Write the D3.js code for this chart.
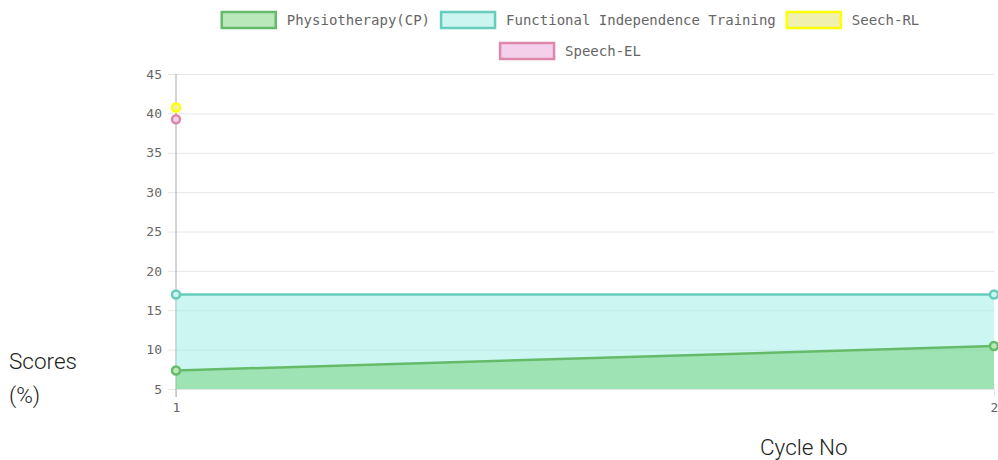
<!DOCTYPE html>
<html>
  <head>
    <title>Scores by Cycle</title>
    <script src="https://d3js.org/d3.v7.min.js"></script>
    <style>
      body { margin: 0; background: #fff; }
      .tick text { font-family: "DejaVu Sans Mono", monospace; font-size: 13px; fill: #666; }
      .legend text { font-family: "DejaVu Sans Mono", monospace; font-size: 14px; fill: #666; }
      .title { font-family: Roboto, sans-serif; font-size: 22.5px; font-weight: 300; fill: #222; }
    </style>
  </head>
  <body>
    <div id="chart"></div>
    <script>
      // Data
      var cycles = [1, 2];
      var physio = [7.35, 10.45];
      var fit = [17, 17];
      var seechRL = [40.75];
      var speechEL = [39.25];
      var yTicks = [5, 10, 15, 20, 25, 30, 35, 40, 45];

      var series = [
        { name: "Physiotherapy(CP)", values: physio, stroke: "#66bb6a", fill: "rgba(102,204,102,0.45)", legendFill: "#bbe8bb", area: true },
        { name: "Functional Independence Training", values: fit, stroke: "#66ccbb", fill: "rgba(153,238,230,0.5)", legendFill: "#ccf5f1", area: true },
        { name: "Seech-RL", values: seechRL, stroke: "#ffff00", fill: "#f0f0b0", legendFill: "#f0f0b0", area: false },
        { name: "Speech-EL", values: speechEL, stroke: "#dd88aa", fill: "#f5d0ea", legendFill: "#f5d0ea", area: false }
      ];

      var svg = d3.select("#chart").append("svg")
        .attr("width", 998)
        .attr("height", 460);

      var x = d3.scaleLinear().domain([1, 2]).range([176, 994]);
      var y = d3.scaleLinear().domain([5, 45]).range([389, 74]);

      // grid lines
      svg.append("g")
        .attr("transform", "translate(176,0)")
        .call(d3.axisLeft(y).tickValues(yTicks).tickSize(-818).tickPadding(14))
        .call(function(g) {
          g.select(".domain").remove();
          g.selectAll(".tick line").attr("stroke", "#e6e6e6").attr("x1", -8);
        });

      // x axis / vertical grid
      svg.append("g")
        .attr("transform", "translate(0,389)")
        .call(d3.axisBottom(x).tickValues(cycles).tickFormat(d3.format("d")).tickSize(-315).tickPadding(14))
        .call(function(g) {
          g.select(".domain").remove();
          g.selectAll(".tick line").attr("stroke", "#e6e6e6").attr("y2", 8);
        });

      // y axis line
      svg.append("line")
        .attr("x1", x(1)).attr("x2", x(1))
        .attr("y1", y(45)).attr("y2", y(5) + 8)
        .attr("stroke", "#aaa");

      // areas (FIT first so Physio sits on top)
      var area = d3.area()
        .x(function(d, i) { return x(cycles[i]); })
        .y0(y(5))
        .y1(function(d) { return y(d); });
      var line = d3.line()
        .x(function(d, i) { return x(cycles[i]); })
        .y(function(d) { return y(d); });

      [series[1], series[0]].forEach(function(s) {
        svg.append("path").datum(s.values)
          .attr("d", area).attr("fill", s.fill);
      });
      [series[1], series[0]].forEach(function(s) {
        svg.append("path").datum(s.values)
          .attr("d", line).attr("fill", "none")
          .attr("stroke", s.stroke).attr("stroke-width", 2.5);
      });

      // points
      series.forEach(function(s) {
        svg.append("g").selectAll("circle")
          .data(s.values)
          .enter()
          .append("circle")
          .attr("cx", function(d, i) { return x(cycles[i]); })
          .attr("cy", function(d) { return y(d); })
          .attr("r", 4)
          .attr("fill", s.legendFill)
          .attr("stroke", s.stroke)
          .attr("stroke-width", 2.5);
      });

      // legend
      var legend = svg.append("g").attr("class", "legend");
      var rows = [[0, 1, 2], [3]];
      var rowY = [11, 42];
      var boxW = 56, boxH = 18, gap = 10, itemGap = 10, center = 570;
      rows.forEach(function(row, r) {
        var items = row.map(function(i) { return series[i]; });
        var widths = items.map(function(s) { return boxW + gap + s.name.length * 8.43; });
        var total = d3.sum(widths) + itemGap * (items.length - 1);
        var cx = center - total / 2;
        items.forEach(function(s, k) {
          var g = legend.append("g").attr("transform", "translate(" + cx + "," + rowY[r] + ")");
          g.append("rect")
            .attr("x", 1).attr("y", 1)
            .attr("width", boxW - 2).attr("height", boxH - 2)
            .attr("fill", s.legendFill)
            .attr("stroke", s.stroke)
            .attr("stroke-width", 2.5);
          g.append("text")
            .attr("x", boxW + gap)
            .attr("y", boxH / 2 + 5)
            .text(s.name);
          cx += widths[k] + itemGap;
        });
      });

      // axis titles
      svg.append("text").attr("class", "title").attr("x", 9).attr("y", 369).text("Scores");
      svg.append("text").attr("class", "title").attr("x", 9).attr("y", 403).text("(%)");
      svg.append("text").attr("class", "title").attr("x", 760).attr("y", 455).text("Cycle No");
    </script>
  </body>
</html>
